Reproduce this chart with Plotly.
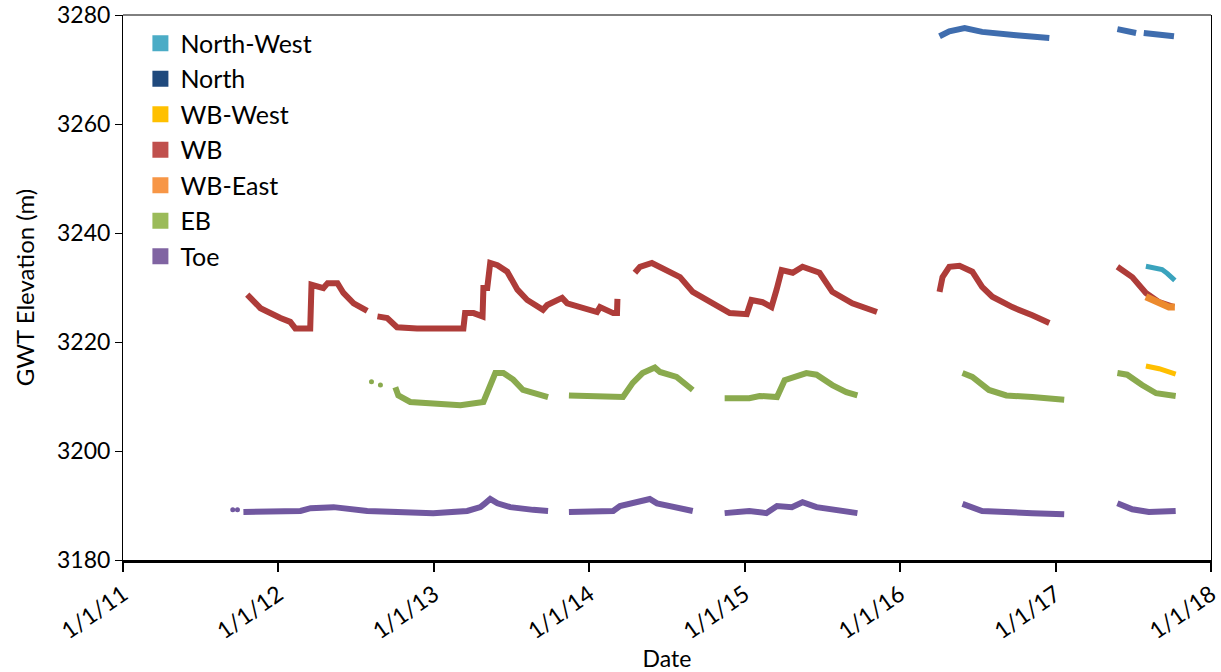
import plotly.graph_objects as go

# ---------------- data ----------------
wb_dates = ['2011-10-20','2011-11-20','2012-01-06','2012-01-29','2012-02-10','2012-03-16','2012-03-19',
            '2012-04-16','2012-04-26','2012-05-19','2012-06-02','2012-06-26','2012-07-28', None,
            '2012-08-21','2012-09-13','2012-10-06','2012-11-22','2013-03-11','2013-03-15','2013-04-04',
            '2013-04-25','2013-04-27','2013-05-06','2013-05-13','2013-05-30','2013-06-22','2013-07-16',
            '2013-08-08','2013-09-14','2013-09-24','2013-10-29','2013-11-10','2013-12-10','2014-01-19',
            '2014-01-26','2014-02-26','2014-03-07','2014-03-08', None,
            '2014-04-18','2014-04-30','2014-05-28','2014-07-02','2014-08-02','2014-09-01','2014-10-11',
            '2014-11-27','2015-01-06','2015-01-17','2015-02-12','2015-03-05','2015-03-17','2015-03-29',
            '2015-04-24','2015-05-17','2015-06-26','2015-07-26','2015-09-11','2015-11-08', None,
            '2016-04-03','2016-04-10','2016-04-26','2016-05-20','2016-06-19','2016-07-12','2016-08-05',
            '2016-09-21','2016-11-07','2016-12-17', None,
            '2017-05-26','2017-06-30','2017-08-01','2017-09-01','2017-10-06']
wb_values = [3228.7,3226.2,3224.4,3223.7,3222.5,3222.5,3230.5,3229.9,3230.8,3230.8,3229.0,3227.1,3225.7, None,
             3224.7,3224.4,3222.7,3222.5,3222.5,3225.3,3225.3,3224.7,3229.9,3229.9,3234.5,3234.1,3232.9,3229.6,
             3227.7,3225.9,3226.8,3228.1,3227.1,3226.4,3225.5,3226.4,3225.3,3225.3,3227.9, None,
             3232.7,3233.8,3234.5,3233.2,3231.9,3229.2,3227.3,3225.3,3225.1,3227.7,3227.3,3226.4,3229.6,3233.2,
             3232.7,3233.8,3232.7,3229.2,3227.1,3225.5, None,
             3229.2,3231.9,3233.8,3234.0,3232.9,3230.1,3228.3,3226.4,3224.9,3223.5, None,
             3233.8,3231.9,3229.0,3227.3,3226.4]

north_dates = ['2016-04-03','2016-04-26','2016-06-01','2016-07-12','2016-09-30','2016-12-17', None,
               '2017-05-26','2017-07-09', None, '2017-07-27','2017-10-06']
north_values = [3276.1,3277.0,3277.6,3276.9,3276.3,3275.8, None,
                3277.4,3276.7, None, 3276.7,3276.1]

nw_dates = ['2017-08-01','2017-09-08','2017-09-20','2017-10-08']
nw_values = [3233.9,3233.3,3232.6,3231.3]

wbeast_dates = ['2017-08-01','2017-09-01','2017-09-24','2017-10-08']
wbeast_values = [3228.3,3227.1,3226.4,3226.4]

wbwest_dates = ['2017-08-01','2017-09-01','2017-10-10']
wbwest_values = [3215.6,3215.1,3214.1]

eb_dates = ['2012-10-02','2012-10-09','2012-11-06','2012-12-30','2013-03-04','2013-04-27','2013-05-13',
            '2013-05-25','2013-06-13','2013-07-06','2013-07-29','2013-08-22','2013-09-26', None,
            '2013-11-14','2014-03-21','2014-04-13','2014-05-06','2014-06-04','2014-06-16','2014-07-25',
            '2014-09-01', None,
            '2014-11-15','2015-01-12','2015-02-05','2015-03-18','2015-04-05','2015-04-24','2015-05-26',
            '2015-06-19','2015-07-26','2015-08-28','2015-09-23', None,
            '2016-05-27','2016-06-19','2016-07-28','2016-09-07','2016-11-07','2017-01-21', None,
            '2017-05-26','2017-06-18','2017-07-23','2017-08-25','2017-10-10']
eb_values = [3211.7,3210.2,3209.0,3208.8,3208.4,3209.0,3211.7,3214.3,3214.3,3213.1,3211.2,3210.6,3209.9, None,
             3210.2,3209.9,3212.5,3214.3,3215.3,3214.5,3213.6,3211.2, None,
             3209.7,3209.7,3210.1,3209.9,3213.0,3213.4,3214.3,3214.0,3212.1,3210.8,3210.2, None,
             3214.3,3213.6,3211.2,3210.2,3209.9,3209.4, None,
             3214.3,3214.0,3212.1,3210.6,3210.1]
eb_dot_dates = ['2012-08-07','2012-08-28']
eb_dot_values = [3212.7,3212.1]

toe_dates = ['2011-10-11','2012-02-22','2012-03-17','2012-05-10','2012-07-28','2012-12-30','2013-03-20',
             '2013-04-20','2013-05-01','2013-05-13','2013-05-30','2013-06-29','2013-08-22','2013-09-26', None,
             '2013-11-14','2014-02-26','2014-03-14','2014-04-13','2014-05-23','2014-06-09','2014-07-16',
             '2014-09-01', None,
             '2014-11-15','2015-01-12','2015-02-21','2015-03-18','2015-04-22','2015-05-17','2015-06-19',
             '2015-07-26','2015-09-23', None,
             '2016-05-27','2016-07-12','2016-11-07','2017-01-21', None,
             '2017-05-26','2017-06-30','2017-08-08','2017-10-10']
toe_values = [3188.8,3189.0,3189.5,3189.7,3189.0,3188.6,3189.0,3189.7,3190.4,3191.2,3190.4,3189.7,3189.2,3189.0, None,
              3188.8,3189.0,3189.9,3190.4,3191.2,3190.4,3189.7,3189.0, None,
              3188.6,3189.0,3188.6,3189.9,3189.7,3190.6,3189.7,3189.2,3188.6, None,
              3190.3,3189.0,3188.6,3188.4, None,
              3190.4,3189.3,3188.8,3189.0]
toe_dot_dates = ['2011-09-16','2011-09-27']
toe_dot_values = [3189.2,3189.2]

legend_names = ['North-West','North','WB-West','WB','WB-East','EB','Toe']
legend_colors = ['#4BACC6','#1F497D','#FFC000','#C0504D','#F79646','#9BBB59','#8064A2']

# ---------------- figure ----------------
FONT = 'Lato'
fig = go.Figure()

def add_line(x, y, color, width=6):
    fig.add_trace(go.Scatter(x=x, y=y, mode='lines', connectgaps=False, showlegend=False,
                             line=dict(color=color, width=width), hoverinfo='skip'))

def add_dots(x, y, color, size=5):
    fig.add_trace(go.Scatter(x=x, y=y, mode='markers', showlegend=False,
                             marker=dict(color=color, size=size), hoverinfo='skip'))

add_line(toe_dates, toe_values, '#7158A0')
add_dots(toe_dot_dates, toe_dot_values, '#7158A0')
add_line(eb_dates, eb_values, '#8AAA4E')
add_dots(eb_dot_dates, eb_dot_values, '#8AAA4E')
add_line(wb_dates, wb_values, '#AE3C39')
add_line(wbeast_dates, wbeast_values, '#EC8A2E', width=7)
add_line(wbwest_dates, wbwest_values, '#FFBF00', width=5)
add_line(nw_dates, nw_values, '#3AA3BD', width=5)
add_line(north_dates, north_values, '#3F6DAE')

for i, (n, c) in enumerate(zip(legend_names, legend_colors)):
    fig.add_trace(go.Scatter(x=[None], y=[None], mode='markers', name=n, legendgroup=n,
                             marker=dict(symbol='square', size=20, color=c)))

fig.update_layout(
    width=1221, height=672,
    margin=dict(l=123, r=10, t=15, b=112),
    paper_bgcolor='white', plot_bgcolor='white',
    font=dict(family=FONT, size=23, color='#000000'),
    showlegend=True,
    legend=dict(x=0.016, y=0.99, xanchor='left', yanchor='top', bgcolor='rgba(0,0,0,0)',
                traceorder='grouped', tracegroupgap=0, font=dict(family=FONT, size=25),
                itemwidth=30),
    xaxis=dict(type='date', range=['2011-01-01', '2018-01-01'], tick0='2011-01-01', dtick='M12',
               tickformat='%-m/%-d/%y', tickangle=-35, ticks='outside', ticklen=9, tickwidth=1.5,
               tickcolor='black', showline=True, linecolor='black', linewidth=3, showgrid=False,
               zeroline=False, tickfont=dict(family=FONT, size=23), automargin=False,
               ticklabeloverflow='allow',
               title=dict(text='Date', font=dict(family=FONT, size=23), standoff=0)),
    yaxis=dict(range=[3180, 3280], dtick=20, ticks='outside', ticklen=7, tickwidth=1,
               tickcolor='black', showline=True, linecolor='black', linewidth=1, mirror=True,
               showgrid=False, zeroline=False, tickfont=dict(family=FONT, size=23), automargin=False,
               ticklabeloverflow='allow',
               title=dict(text='GWT Elevation (m)', font=dict(family=FONT, size=24))),
)
fig.add_shape(type='line', xref='paper', yref='paper', x0=0, x1=1, y0=1, y1=1,
              line=dict(color='black', width=1))

fig.write_html('out.html', config={'displayModeBar': False},
               post_script="document.body.style.margin='0';")
